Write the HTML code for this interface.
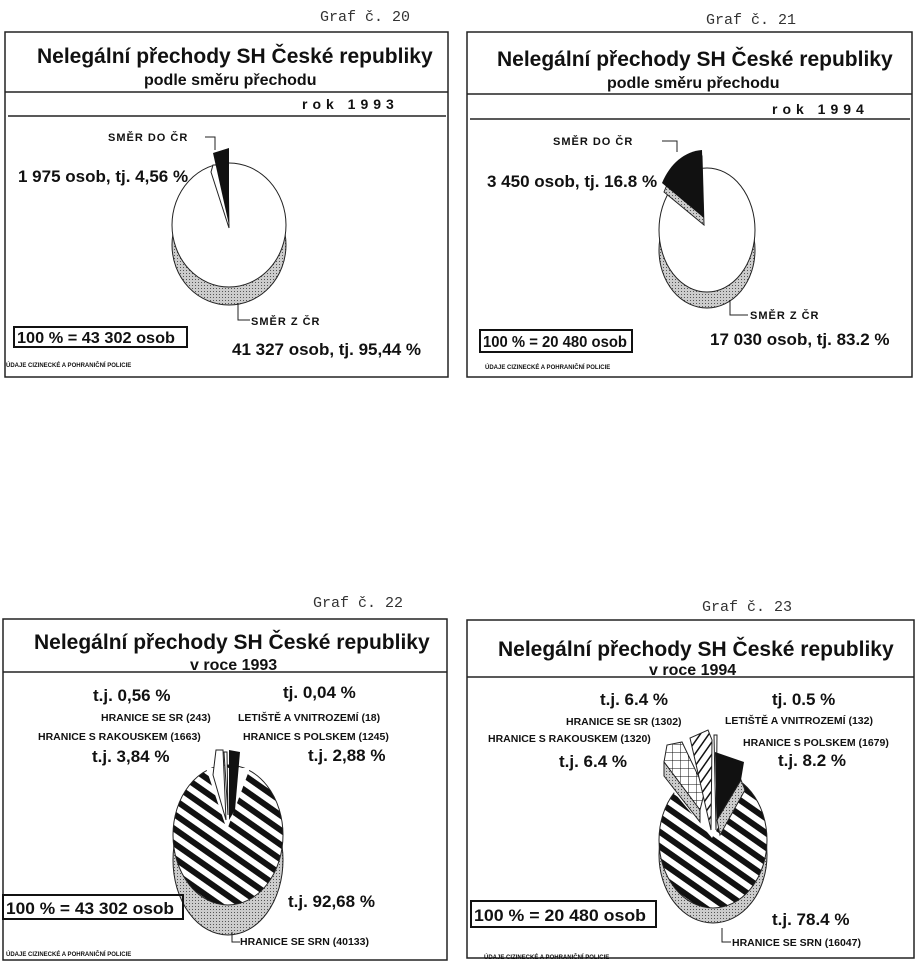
<!DOCTYPE html>
<html><head><meta charset="utf-8"><style>
html,body{margin:0;padding:0;background:#fff}
svg{display:block}
text{font-family:"Liberation Sans",sans-serif;fill:#111}
.t{font-size:21px;font-weight:bold}
.s{font-size:16px;font-weight:bold}
.r{font-size:14px;font-weight:bold}
.m{font-family:"Liberation Mono",monospace;font-size:15px;font-weight:normal;fill:#333}
.l{font-size:17px;font-weight:bold}
.b{font-size:16px;font-weight:bold}
.sm{font-size:11px;font-weight:bold;letter-spacing:1px}
.sx{font-size:10.5px;font-weight:bold}
.xs{font-size:6px;font-weight:bold}
</style></head><body>
<svg width="917" height="967" viewBox="0 0 917 967" xmlns="http://www.w3.org/2000/svg">
<defs>
<pattern id="dots" width="3" height="3" patternUnits="userSpaceOnUse"><rect width="3" height="3" fill="#ccc"/><rect width="1" height="1" fill="#555"/></pattern>
<pattern id="str" width="12" height="12" patternUnits="userSpaceOnUse" patternTransform="rotate(35)"><rect width="12" height="12" fill="#fff"/><rect width="12" height="6" fill="#111"/></pattern>
<pattern id="thin" width="7" height="7" patternUnits="userSpaceOnUse" patternTransform="rotate(-55)"><rect width="7" height="7" fill="#fff"/><rect width="7" height="1.5" fill="#111"/></pattern>
<pattern id="cross" width="8" height="8" patternUnits="userSpaceOnUse"><rect width="8" height="8" fill="#fff"/><path d="M0 0H8M0 0V8" stroke="#111" stroke-width="1"/></pattern>
</defs>
<g fill="none" stroke="#222" stroke-width="1.5">
<rect x="5" y="32" width="443" height="345"/>
<rect x="467" y="32" width="445" height="345"/>
<rect x="3" y="619" width="444" height="341"/>
<rect x="467" y="620" width="447" height="338"/>
<line x1="5" y1="92" x2="448" y2="92"/><line x1="8" y1="116" x2="446" y2="116"/>
<line x1="467" y1="94" x2="912" y2="94"/><line x1="470" y1="119" x2="910" y2="119"/>
<line x1="3" y1="672" x2="447" y2="672"/>
<line x1="467" y1="677" x2="914" y2="677"/>
</g>
<text class="m" x="320" y="21">Graf č. 20</text>
<text class="m" x="706" y="24">Graf č. 21</text>
<text class="m" x="313" y="607">Graf č. 22</text>
<text class="m" x="702" y="611">Graf č. 23</text>
<text class="t" x="37" y="63">Nelegální přechody SH České republiky</text>
<text class="s" x="144" y="85">podle směru přechodu</text>
<text class="r" x="302" y="109" letter-spacing="5">rok  1993</text>
<text class="t" x="497" y="66">Nelegální přechody SH České republiky</text>
<text class="s" x="607" y="88">podle směru přechodu</text>
<text class="r" x="772" y="114" letter-spacing="5">rok  1994</text>
<text class="t" x="34" y="649">Nelegální přechody SH České republiky</text>
<text class="s" x="190" y="670">v roce 1993</text>
<text class="t" x="498" y="656">Nelegální přechody SH České republiky</text>
<text class="s" x="649" y="675">v roce 1994</text>

<!-- chart 20 -->
<ellipse cx="229" cy="245" rx="57" ry="60" fill="url(#dots)" stroke="#222"/>
<ellipse cx="229" cy="225" rx="57" ry="62" fill="#fff" stroke="#222"/>
<polygon points="229,228 211,172 213,165 228,165" fill="#fff" stroke="#222"/>
<polygon points="229,225 213,153 229,148" fill="#111"/>
<text class="sm" x="108" y="141">SMĚR DO ČR</text>
<path d="M205 137H215V150" fill="none" stroke="#222"/>
<text class="l" x="18" y="182">1 975 osob, tj. 4,56 %</text>
<path d="M238 303V320H250" fill="none" stroke="#222"/>
<text class="sm" x="251" y="325">SMĚR Z ČR</text>
<text class="l" x="232" y="355">41 327 osob, tj. 95,44 %</text>
<rect x="14" y="327" width="173" height="20" fill="none" stroke="#111" stroke-width="2"/>
<text class="b" x="17" y="343" textLength="158" lengthAdjust="spacingAndGlyphs">100 % = 43 302 osob</text>
<text class="xs" x="6" y="367">ÚDAJE CIZINECKÉ A POHRANIČNÍ POLICIE</text>

<!-- chart 21 -->
<ellipse cx="707" cy="250" rx="48" ry="58" fill="url(#dots)" stroke="#222"/>
<ellipse cx="707" cy="230" rx="48" ry="62" fill="#fff" stroke="#222"/>
<path d="M704 225 L664 192 A48 62 0 0 1 702 156 Z" fill="url(#dots)" stroke="#222"/>
<path d="M704 218 L662 183 A48 62 0 0 1 702 150 Z" fill="#111"/>
<text class="sm" x="553" y="145">SMĚR DO ČR</text>
<path d="M662 141H677V152" fill="none" stroke="#222"/>
<text class="l" x="487" y="187">3 450 osob, tj. 16.8 %</text>
<path d="M730 300V315H748" fill="none" stroke="#222"/>
<text class="sm" x="750" y="319">SMĚR Z ČR</text>
<text class="l" x="710" y="345">17 030 osob, tj. 83.2 %</text>
<rect x="480" y="330" width="152" height="22" fill="none" stroke="#111" stroke-width="2"/>
<text class="b" x="483" y="347" textLength="144" lengthAdjust="spacingAndGlyphs">100 % = 20 480 osob</text>
<text class="xs" x="485" y="369">ÚDAJE CIZINECKÉ A POHRANIČNÍ POLICIE</text>

<!-- chart 22 -->
<ellipse cx="228" cy="860" rx="55" ry="75" fill="url(#dots)" stroke="#222"/>
<ellipse cx="228" cy="835" rx="55" ry="70" fill="url(#str)" stroke="#222"/>
<polygon points="227,830 206,768 250,768" fill="#fff"/>
<polygon points="226,820 213,775 216,750 223,750" fill="#fff" stroke="#222"/>
<polygon points="228,815 224,752 227,752" fill="#fff" stroke="#222"/>
<polygon points="229,820 229,750 240,752 235,810" fill="#111"/>
<text class="l" x="93" y="701">t.j. 0,56 %</text>
<text class="l" x="283" y="698">tj. 0,04 %</text>
<text class="sx" x="101" y="721">HRANICE SE SR (243)</text>
<text class="sx" x="238" y="721">LETIŠTĚ A VNITROZEMÍ (18)</text>
<text class="sx" x="38" y="740">HRANICE S RAKOUSKEM (1663)</text>
<text class="sx" x="243" y="740">HRANICE S POLSKEM (1245)</text>
<text class="l" x="92" y="762">t.j. 3,84 %</text>
<text class="l" x="308" y="761">t.j. 2,88 %</text>
<text class="l" x="288" y="907">t.j. 92,68 %</text>
<path d="M232 932V942H240" fill="none" stroke="#222"/>
<text class="sx" x="240" y="945">HRANICE SE SRN (40133)</text>
<rect x="3" y="895" width="180" height="24" fill="none" stroke="#111" stroke-width="2"/>
<text class="l" x="6" y="914" textLength="168" lengthAdjust="spacingAndGlyphs">100 % = 43 302 osob</text>
<text class="xs" x="6" y="956">ÚDAJE CIZINECKÉ A POHRANIČNÍ POLICIE</text>

<!-- chart 23 -->
<ellipse cx="713" cy="855" rx="54" ry="68" fill="url(#dots)" stroke="#222"/>
<ellipse cx="713" cy="840" rx="54" ry="68" fill="url(#str)" stroke="#222"/>
<polygon points="712,838 672,790 712,770 745,780" fill="#fff"/>
<polygon points="700,810 664,762 667,745 682,742 705,790" fill="url(#cross)" stroke="#222"/>
<polygon points="664,762 700,810 700,822 664,776" fill="url(#dots)" stroke="#222"/>
<polygon points="711,830 690,738 708,730 712,740" fill="url(#thin)" stroke="#222"/>
<polygon points="716,830 714,735 717,735" fill="#fff" stroke="#222"/>
<polygon points="717,820 715,752 744,762 741,780" fill="#111"/>
<polygon points="717,820 741,780 745,790 720,835" fill="url(#dots)" stroke="#222"/>
<text class="l" x="600" y="705">t.j. 6.4 %</text>
<text class="l" x="772" y="705">tj. 0.5 %</text>
<text class="sx" x="566" y="725">HRANICE SE SR (1302)</text>
<text class="sx" x="725" y="724">LETIŠTĚ A VNITROZEMÍ (132)</text>
<text class="sx" x="488" y="742">HRANICE S RAKOUSKEM (1320)</text>
<text class="sx" x="743" y="746">HRANICE S POLSKEM (1679)</text>
<text class="l" x="559" y="767">t.j. 6.4 %</text>
<text class="l" x="778" y="766">t.j. 8.2 %</text>
<text class="l" x="772" y="925">t.j. 78.4 %</text>
<path d="M722 928V942H731" fill="none" stroke="#222"/>
<text class="sx" x="732" y="946">HRANICE SE SRN (16047)</text>
<rect x="471" y="901" width="185" height="26" fill="none" stroke="#111" stroke-width="2"/>
<text class="l" x="474" y="921" textLength="172" lengthAdjust="spacingAndGlyphs">100 % = 20 480 osob</text>
<text class="xs" x="484" y="959">ÚDAJE CIZINECKÉ A POHRANIČNÍ POLICIE</text>
</svg>
</body></html>
